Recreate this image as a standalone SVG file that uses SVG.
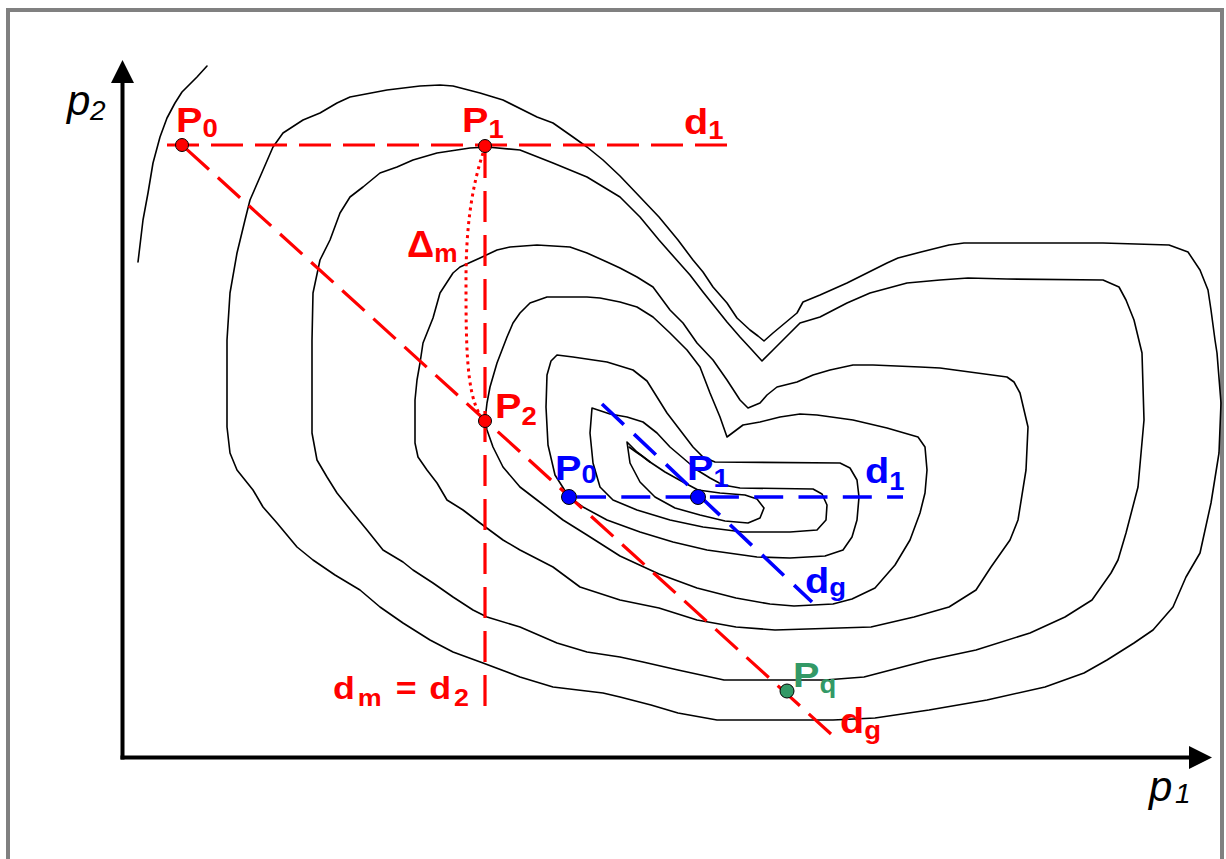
<svg xmlns="http://www.w3.org/2000/svg" width="1226" height="859" viewBox="0 0 1226 859">
<style>
.frame{fill:#fff;stroke:#808080;stroke-width:4}
.ct{fill:none;stroke:#000;stroke-width:1.6;stroke-linejoin:round;stroke-linecap:round}
.axis{stroke:#000;stroke-width:4;fill:none}
.rd{fill:none;stroke:#f00;stroke-width:3.2}
.bd{fill:none;stroke:#00f;stroke-width:3.6}
.lbl{font-family:"Liberation Sans",Arial,sans-serif;font-weight:bold;font-size:36px}
.sub{font-size:25px}
.ax{font-family:"Liberation Sans",Arial,sans-serif;font-style:italic;font-size:42px;fill:#000}
.axs{font-size:28px}
.red{fill:#f00}.blue{fill:#00f}.green{fill:#339966}
.dr{fill:#f00;stroke:#000;stroke-width:1}
.db{fill:#00f;stroke:#000;stroke-width:1}
.dgn{fill:#339966;stroke:#000;stroke-width:1}
</style>
<rect class="frame" x="8" y="10" width="1214" height="900"/>
<g id="contours">
<polyline class="ct" points="207,66 197,77 182,92 175,103 167,118 160,137 153,163 148,193 143,220 138,262"/>
<polygon class="ct" points="350,97 387,90 420,86 440,85 453,86 480,93 503,100 537,117 553,123 573,137 587,147 603,160 620,176 640,197 659,217 678,240 693,260 703,272 713,287 727,303 737,318 750,330 758,336 764,341 773,333 797,313 803,302 820,295 847,283 867,273 887,263 898,258 921,252 949,245 964,243 1103,243 1169,245 1188,252 1200,270 1208,290 1211,310 1215,340 1217,353 1221,403 1219,453 1211,503 1200,553 1186,577 1173,607 1153,630 1134,643 1107,660 1084,673 1045,687 987,700 929,710 875,718 833,720 717,720 678,713 651,705 620,697 603,693 553,687 520,677 483,663 453,652 430,640 403,623 380,607 360,590 335,575 313,560 297,547 277,523 263,507 253,490 237,470 230,453 227,427 227,340 230,293 237,253 245,220 250,200 260,177 273,147 283,133 303,120 320,113 337,103"/>
<polygon class="ct" points="312,340 313,293 320,260 330,240 340,213 350,197 363,187 380,173 397,167 413,160 437,153 470,148 487,147 520,150 553,163 587,177 620,197 640,217 659,240 674,257 690,275 703,292 715,307 727,322 740,337 752,350 762,361 773,350 790,333 800,323 820,317 847,303 870,293 907,283 940,280 968,278 1007,279 1103,280 1119,287 1126,300 1134,320 1142,353 1144,420 1138,487 1126,533 1118,560 1111,573 1092,600 1065,617 1030,633 976,650 929,660 864,677 825,680 724,680 678,670 643,662 620,657 587,652 557,643 520,627 487,617 473,610 453,597 433,583 413,570 403,562 383,550 367,530 353,513 337,493 327,477 317,460 312,433"/>
<polygon class="ct" points="748,408 760,403 767,395 777,387 797,382 813,375 830,370 853,365 873,365 920,367 940,368 1007,377 1014,382 1020,393 1028,427 1026,470 1018,520 1010,540 991,567 976,590 949,607 914,617 871,627 775,630 736,627 697,620 659,608 620,600 580,587 553,567 520,550 503,540 480,523 463,510 447,500 437,483 427,470 418,457 415,443 415,400 417,380 420,363 423,343 433,318 440,293 453,273 460,267 480,258 497,250 510,247 537,245 570,247 587,253 607,262 620,268 637,277 653,287 670,310 683,323 697,343 713,360 727,380 740,400"/>
<polygon class="ct" points="485,420 487,430 493,447 503,467 520,487 537,500 563,520 587,535 620,556 659,574 697,588 736,598 770,604 794,606 833,604 852,599 875,588 895,565 910,540 920,513 925,493 927,470 925,447 918,437 887,428 853,420 817,415 800,414 780,417 760,422 743,425 727,437 720,417 710,393 700,367 687,350 670,333 653,317 637,307 620,302 600,298 587,297 547,297 530,303 520,313 513,323 507,337 497,363 490,387 487,403"/>
<polygon class="ct" points="557,355 573,357 607,362 633,370 647,381 657,397 667,413 680,430 693,447 703,457 715,462 840,463 850,468 857,480 859,497 857,520 852,537 843,550 825,556 790,558 757,557 707,550 673,542 640,532 607,520 583,507 569,497 555,475 548,445 546,407 547,375 551,361"/>
<polygon class="ct" points="592,408 610,414 627,417 643,422 657,433 670,447 683,458 697,470 710,478 723,485 740,488 813,489 822,494 827,505 826,520 817,530 790,532 743,532 703,527 670,520 637,510 613,500 600,487 593,463 590,433"/>
<polygon class="ct" points="627,442 637,452 650,462 665,472 683,482 698,490 720,493 745,495 757,499 764,508 760,518 748,523 725,521 700,515 675,508 655,497 640,482 630,463"/>
<polyline class="ct" points="629,447 636,452 642,456 650,462"/>
</g>
<g id="axes">
<line class="axis" x1="122.5" y1="80" x2="122.5" y2="759.5"/>
<polygon points="122.5,60 111,83 134,83" fill="#000"/>
<line class="axis" x1="120.5" y1="757.5" x2="1192" y2="757.5"/>
<polygon points="1212,757.5 1189,746 1189,769" fill="#000"/>
<text class="ax" x="67" y="115">p<tspan class="axs" x="90" y="120">2</tspan></text>
<text class="ax" x="1149" y="801">p<tspan class="axs" x="1175" y="803">1</tspan></text>
</g>
<g id="connectors">
<path class="rd" d="M167,145 H727" stroke-dasharray="32 12"/>
<path class="rd" d="M485,147 V706" stroke-dasharray="31 13"/>
<path class="rd" d="M831,734 L182,145" stroke-dasharray="30 12"/>
<path d="M483,153 C471,190 466,230 466,280 C466,340 466,392 480,415" fill="none" stroke="#f00" stroke-width="3" stroke-dasharray="3 4"/>
<path class="bd" d="M577,497 H903" stroke-dasharray="29 15.3"/>
<path class="bd" d="M602,404 L812,602" stroke-dasharray="30 14"/>
</g>
<g id="node-red-P0"><circle class="dr" cx="182" cy="145" r="6.5"/><text class="lbl red" transform="translate(176,132) scale(1.1,1)">P<tspan class="sub" dy="5">0</tspan></text></g>
<g id="node-red-P1"><circle class="dr" cx="485" cy="146" r="6.5"/><text class="lbl red" transform="translate(462,132) scale(1.1,1)">P<tspan class="sub" dy="6">1</tspan></text></g>
<g id="node-red-P2"><circle class="dr" cx="485" cy="421" r="6.5"/><text class="lbl red" transform="translate(495,418) scale(1.1,1)">P<tspan class="sub" dy="7">2</tspan></text></g>
<g id="label-red-d1"><text class="lbl red" transform="translate(684,134) scale(1.1,1)">d<tspan class="sub" dy="5">1</tspan></text></g>
<g id="label-delta"><text class="lbl red" transform="translate(407,257) scale(1.05,1)">Δ<tspan class="sub" dy="5">m</tspan></text></g>
<g id="label-dm"><text class="lbl red" style="font-size:32px" transform="translate(333,699) scale(1.12,1)"><tspan x="0">d</tspan><tspan x="22" dy="7" style="font-size:24px">m</tspan><tspan x="56" dy="-7">=</tspan><tspan x="86">d</tspan><tspan x="108" dy="7" style="font-size:24px">2</tspan></text></g>
<g id="label-red-dg"><text class="lbl red" transform="translate(840,733) scale(1.1,1)">d<tspan class="sub" dy="6">g</tspan></text></g>
<g id="node-blue-P0"><circle class="db" cx="569" cy="497" r="7.5"/><text class="lbl blue" transform="translate(555,480) scale(1.1,1)">P<tspan class="sub" dy="3">0</tspan></text></g>
<g id="node-blue-P1"><circle class="db" cx="698" cy="497" r="7.5"/><text class="lbl blue" transform="translate(687,480) scale(1.1,1)">P<tspan class="sub" dy="7">1</tspan></text></g>
<g id="label-blue-d1"><text class="lbl blue" transform="translate(865,483) scale(1.1,1)">d<tspan class="sub" dy="7">1</tspan></text></g>
<g id="label-blue-dg"><text class="lbl blue" transform="translate(805,593) scale(1.1,1)">d<tspan class="sub" dy="3">g</tspan></text></g>
<g id="node-Pq"><circle class="dgn" cx="787" cy="691" r="7"/><text class="lbl green" transform="translate(793,687) scale(1.1,1)">P<tspan class="sub" dy="6">q</tspan></text></g>
</svg>
